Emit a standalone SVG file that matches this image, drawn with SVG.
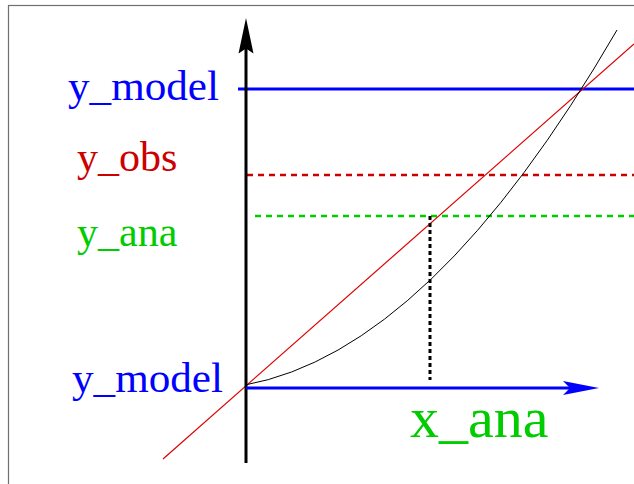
<svg xmlns="http://www.w3.org/2000/svg" width="634" height="484" viewBox="0 0 634 484">
<style>
.lbl{font-family:"Liberation Serif","Times New Roman",serif;}
.blue{fill:#0000ff}
.red{fill:#cc0000}
.green{fill:#00cc00}
</style>
<rect width="634" height="484" fill="#ffffff"/>
<rect x="8.5" y="5.5" width="640" height="490" fill="none" stroke="#707070" stroke-width="1.2"/>
<g id="connectors">
<line x1="238" y1="89" x2="634" y2="89" stroke="#0000ff" stroke-width="3"/>
<line x1="247" y1="175" x2="634" y2="175" stroke="#cc0000" stroke-width="2.5" stroke-dasharray="6,5"/>
<line x1="255" y1="216" x2="634" y2="216" stroke="#00cc00" stroke-width="2.5" stroke-dasharray="6,5"/>
<line x1="163" y1="459" x2="634" y2="44" stroke="#dd0000" stroke-width="1.2"/>
<path d="M245,385 Q431,351 617,30" fill="none" stroke="#000000" stroke-width="1"/>
<line x1="430" y1="216" x2="430" y2="380" stroke="#000000" stroke-width="3" stroke-dasharray="4,3"/>
<line x1="246" y1="463" x2="246" y2="45" stroke="#000000" stroke-width="3"/>
<path d="M246,18 L253.5,53.5 L246,48.5 L238.5,53.5 Z" fill="#000000"/>
<line x1="246" y1="388" x2="575" y2="388" stroke="#0000ff" stroke-width="3"/>
<path d="M599,388 L563,381 L570,388 L563,395 Z" fill="#0000ff"/>
</g>
<g id="label-y-model-top"><text class="lbl blue" x="68" y="100" font-size="42" textLength="151" lengthAdjust="spacingAndGlyphs">y_model</text></g>
<g id="label-y-obs"><text class="lbl red" x="77" y="171" font-size="42">y_obs</text></g>
<g id="label-y-ana"><text class="lbl green" x="77" y="246" font-size="42">y_ana</text></g>
<g id="label-y-model-bottom"><text class="lbl blue" x="72" y="392" font-size="42" textLength="151" lengthAdjust="spacingAndGlyphs">y_model</text></g>
<g id="label-x-ana"><text class="lbl green" x="410" y="437" font-size="58">x_ana</text></g>
</svg>
